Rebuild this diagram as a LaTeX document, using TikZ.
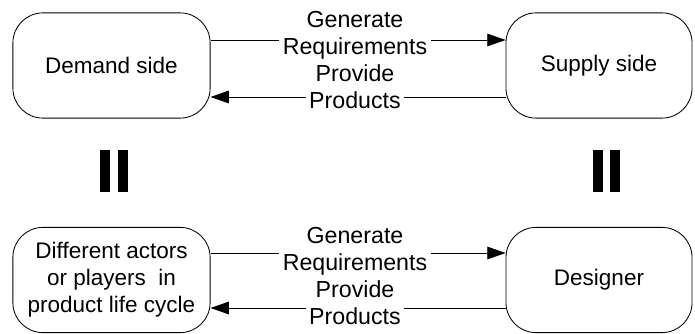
\documentclass[tikz,border=0pt]{standalone}
\usepackage{fontspec}
\setmainfont{Liberation Sans}
\usetikzlibrary{arrows.meta, positioning}

\begin{document}
\begin{tikzpicture}[x=0.025cm, y=-0.025cm, >={Triangle[length=13pt, width=9pt]},
    side/.style={draw, line width=0.6pt, rounded corners=0.75cm, minimum height=2.63cm,
      align=center, font=\fontsize{16}{19.2}\selectfont},
    flow/.style={fill=white, inner xsep=2.5pt, inner ysep=0.5pt, text height=13pt,
      text depth=5pt, anchor=base, font=\fontsize{16.5}{19.2}\selectfont}]

  \useasboundingbox (0,0) rectangle (695,334);

  % Boxes
  \node[side, minimum width=4.93cm] (demand) at (111.5,65.5) {Demand side};
  \node[side, minimum width=4.65cm] (supply) at (599,65.5) {Supply side};
  \node[side, minimum width=4.93cm] (actors) at (111.5,280)
        {Different actors\\or players\ \ in\\product life cycle};
  \node[side, minimum width=4.65cm] (designer) at (599,280) {Designer};

  % Connectors
  \coordinate (r1) at (0,40);
  \coordinate (r2) at (0,97);
  \coordinate (r3) at (0,253);
  \coordinate (r4) at (0,308);
  \draw[->, line width=0.6pt] (demand.east |- r1) -- (supply.west |- r1);
  \draw[->, line width=0.6pt] (supply.west |- r2) -- (demand.east |- r2);
  \draw[->, line width=0.6pt] (actors.east |- r3) -- (designer.west |- r3);
  \draw[->, line width=0.6pt] (designer.west |- r4) -- (actors.east |- r4);

  % Labels on the connectors
  \foreach \t/\y in {Generate/28, Requirements/55, Provide/82, Products/109}{
    \node[flow] (up-\t) at (355,\y) {\t};
  }
  \foreach \t/\y in {Generate/243, Requirements/270, Provide/297, Products/324}{
    \node[flow] (low-\t) at (355,\y) {\t};
  }

  % Equality bars
  \fill (100,150) rectangle (110,192);
  \fill (118,150) rectangle (128,192);
  \fill (593,150) rectangle (603,192);
  \fill (610,150) rectangle (620,192);
\end{tikzpicture}
\end{document}
